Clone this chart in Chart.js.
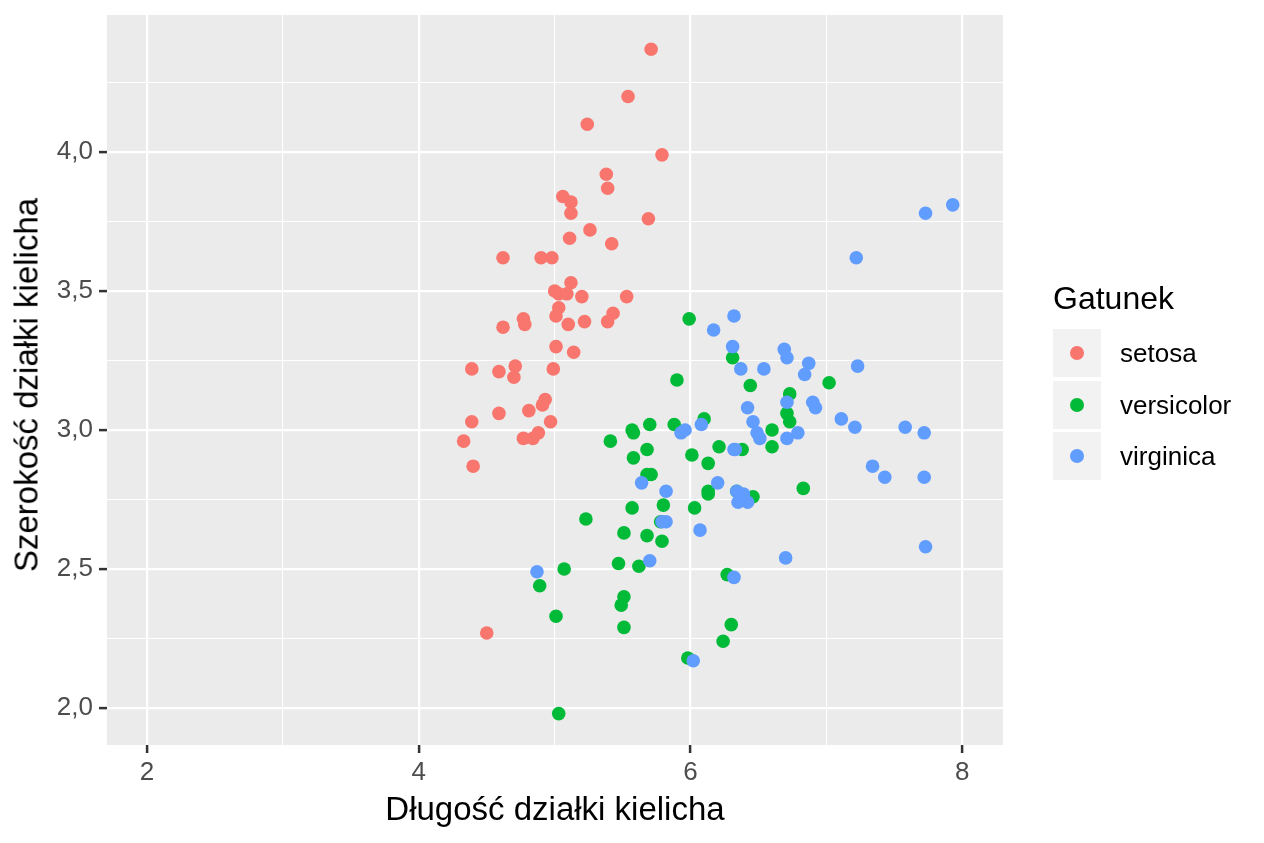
<!DOCTYPE html>
<html>
<head>
<meta charset="utf-8">
<script src="https://cdn.jsdelivr.net/npm/chart.js@4.4.1/dist/chart.umd.min.js"></script>
<style>
  html, body { margin:0; padding:0; background:#ffffff; }
  #wrap { position:relative; width:1264px; height:843px; font-family:"Liberation Sans", Arial, Helvetica, sans-serif; }
  canvas { position:absolute; left:0; top:0; }
  .xtitle { position:absolute; left:555px; top:808px; transform:translate(-50%,-50%); font-size:33px; line-height:33px; color:#000; white-space:nowrap; }
  .ytitle { position:absolute; left:26px; top:385px; transform:translate(-50%,-50%) rotate(-90deg); font-size:33px; line-height:33px; color:#000; white-space:nowrap; }
  .ltitle { position:absolute; left:1053px; top:282px; font-size:32px; line-height:32px; color:#000; white-space:nowrap; }
  .lkey { position:absolute; left:1053px; width:48px; height:48px; background:#F2F2F2; }
  .ldot { position:absolute; left:17px; top:17px; width:14px; height:14px; border-radius:50%; }
  .llab { position:absolute; left:1120px; height:48px; line-height:48px; font-size:26px; color:#000; white-space:nowrap; }
</style>
</head>
<body>
<div id="wrap">
  <canvas id="c" width="1264" height="843"></canvas>
  <div class="xtitle">Długość działki kielicha</div>
  <div class="ytitle">Szerokość działki kielicha</div>
  <div id="legend"></div>
</div>
<script>
// ---- data (points are jittered) ----
const categories = ['setosa', 'versicolor', 'virginica'];
const colors = ['#F8766D', '#00BA38', '#619CFF'];
const legendTitle = 'Gatunek';

const setosaX = [5.71,5.54,5.24,5.79,5.38,5.39,5.06,5.12,5.12,5.69,5.26,5.11,5.42,4.62,4.90,4.98,5.12,5.00,5.03,5.09,5.20,5.53,5.03,5.43,5.01,5.10,5.22,5.39,4.62,4.77,4.78,5.01,5.14,4.39,4.59,4.71,4.70,4.99,4.93,4.91,4.59,4.81,4.97,4.39,4.33,4.77,4.84,4.88,4.40,4.50];
const setosaY = [4.37,4.20,4.10,3.99,3.92,3.87,3.84,3.82,3.78,3.76,3.72,3.69,3.67,3.62,3.62,3.62,3.53,3.50,3.49,3.49,3.48,3.48,3.44,3.42,3.41,3.38,3.39,3.39,3.37,3.40,3.38,3.30,3.28,3.22,3.21,3.23,3.19,3.22,3.11,3.09,3.06,3.07,3.03,3.03,2.96,2.97,2.97,2.99,2.87,2.27];

const versicolorX = [5.99,6.31,5.90,6.44,7.02,6.73,6.71,6.73,6.10,5.88,5.70,5.57,5.58,5.41,6.60,6.60,6.38,6.21,5.68,5.58,6.01,6.13,5.68,5.71,6.13,6.13,6.46,6.83,5.80,5.57,6.03,5.23,5.78,5.51,5.68,5.79,5.47,5.62,6.27,5.07,4.89,5.51,5.49,5.01,5.51,6.30,6.24,5.98,5.03,6.34];
const versicolorY = [3.40,3.26,3.18,3.16,3.17,3.13,3.06,3.03,3.04,3.02,3.02,3.00,2.99,2.96,3.00,2.94,2.93,2.94,2.93,2.90,2.91,2.88,2.84,2.84,2.78,2.77,2.76,2.79,2.73,2.72,2.72,2.68,2.67,2.63,2.62,2.60,2.52,2.51,2.48,2.50,2.44,2.40,2.37,2.33,2.29,2.30,2.24,2.18,1.98,2.78];

const virginicaX = [7.93,7.73,7.22,6.32,6.17,6.31,6.37,6.54,6.69,6.71,6.87,6.84,7.23,6.71,6.90,6.92,6.42,6.46,6.49,6.51,6.79,6.71,6.32,6.08,5.96,5.93,7.11,7.21,7.58,7.72,7.34,7.43,7.72,7.73,6.70,5.64,5.82,6.20,6.34,6.39,6.35,6.42,5.82,5.79,6.07,5.70,6.32,6.02,4.87,6.33];
const virginicaY = [3.81,3.78,3.62,3.41,3.36,3.30,3.22,3.22,3.29,3.26,3.24,3.20,3.23,3.10,3.10,3.08,3.08,3.03,2.99,2.97,2.99,2.97,2.93,3.02,3.00,2.99,3.04,3.01,3.01,2.99,2.87,2.83,2.83,2.58,2.54,2.81,2.78,2.81,2.78,2.77,2.74,2.74,2.67,2.67,2.64,2.53,2.47,2.17,2.49,2.93];

const xTicks = [2,3,4,5,6,7,8];          // 3,5,7 are minor grid lines
const xLabelTicks = [2,4,6,8];
const yTicks = [2.0,2.25,2.5,2.75,3.0,3.25,3.5,3.75,4.0,4.25];
const yLabelTicks = [2.0,2.5,3.0,3.5,4.0];
const xAxisTitle = 'Długość działki kielicha';
const yAxisTitle = 'Szerokość działki kielicha';

// ---- build ----
const seriesX = [setosaX, versicolorX, virginicaX];
const seriesY = [setosaY, versicolorY, virginicaY];
const datasets = categories.map((name, i) => ({
  label: name,
  data: seriesX[i].map((x, j) => ({ x: x, y: seriesY[i][j] })),
  backgroundColor: colors[i],
  borderWidth: 0,
  pointRadius: 6.8,
  pointHoverRadius: 6.8,
  order: categories.length - i
}));

const isMajor = (v, list) => list.some(t => Math.abs(t - v) < 1e-6);
const FONT = '"Liberation Sans", Arial, Helvetica, sans-serif';

const panelBg = {
  id: 'panelBg',
  beforeDraw(chart) {
    const a = chart.chartArea, ctx = chart.ctx;
    ctx.save();
    ctx.fillStyle = '#EBEBEB';
    ctx.fillRect(a.left, a.top, a.right - a.left, a.bottom - a.top);
    ctx.restore();
  }
};

new Chart(document.getElementById('c'), {
  type: 'scatter',
  data: { datasets },
  plugins: [panelBg],
  options: {
    responsive: false,
    animation: false,
    devicePixelRatio: 1,
    layout: { padding: { left: 0, right: 261, top: 15, bottom: 0 } },
    plugins: { legend: { display: false }, tooltip: { enabled: false } },
    scales: {
      x: {
        type: 'linear', min: 1.705, max: 8.30,
        afterBuildTicks: s => { s.ticks = xTicks.map(v => ({ value: v })); },
        afterFit: s => { s.height = 98; s.paddingLeft = 0; s.paddingRight = 0; },
        border: { display: false },
        grid: {
          color: '#FFFFFF',
          lineWidth: c => isMajor(c.tick.value, xLabelTicks) ? 2.2 : 1.1,
          drawTicks: true,
          tickLength: 8,
          tickWidth: 2.5,
          tickColor: c => isMajor(c.tick.value, xLabelTicks) ? '#333333' : 'rgba(0,0,0,0)'
        },
        ticks: {
          autoSkip: false, maxRotation: 0, padding: 4,
          color: '#4D4D4D', font: { family: FONT, size: 26 },
          callback: v => isMajor(v, xLabelTicks) ? String(v) : ''
        }
      },
      y: {
        type: 'linear', min: 1.867, max: 4.493,
        afterBuildTicks: s => { s.ticks = yTicks.map(v => ({ value: v })); },
        afterFit: s => { s.width = 107; s.paddingTop = 0; s.paddingBottom = 0; },
        border: { display: false },
        grid: {
          color: '#FFFFFF',
          lineWidth: c => isMajor(c.tick.value, yLabelTicks) ? 2.2 : 1.1,
          drawTicks: true,
          tickLength: 8,
          tickWidth: 2.5,
          tickColor: c => isMajor(c.tick.value, yLabelTicks) ? '#333333' : 'rgba(0,0,0,0)'
        },
        ticks: {
          autoSkip: false, padding: 6,
          color: '#4D4D4D', font: { family: FONT, size: 26 },
          callback: v => isMajor(v, yLabelTicks) ? v.toFixed(1).replace('.', ',') : ''
        }
      }
    }
  }
});

// ---- legend (HTML text) ----
const lg = document.getElementById('legend');
const t = document.createElement('div');
t.className = 'ltitle'; t.textContent = legendTitle; lg.appendChild(t);
categories.forEach((name, i) => {
  const top = 329 + i * 51.5;
  const k = document.createElement('div');
  k.className = 'lkey'; k.style.top = top + 'px';
  const d = document.createElement('div');
  d.className = 'ldot'; d.style.background = colors[i];
  k.appendChild(d); lg.appendChild(k);
  const l = document.createElement('div');
  l.className = 'llab'; l.style.top = top + 'px'; l.textContent = name;
  lg.appendChild(l);
});
</script>
</body>
</html>
